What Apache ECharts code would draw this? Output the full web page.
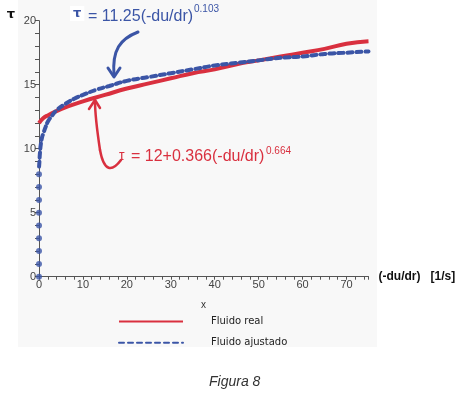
<!DOCTYPE html>
<html>
<head>
<meta charset="utf-8">
<script src="https://cdn.jsdelivr.net/npm/echarts@6/dist/echarts.min.js"></script>
<style>
  html, body { margin: 0; padding: 0; background: #fff; }
  #main { width: 466px; height: 398px; }
</style>
</head>
<body>
<div id="main"></div>
<script>
// valores
var realX = [0, 1, 2, 5, 10, 15, 20, 25, 30, 35, 40, 45, 50, 55, 60, 65, 70, 75];
var realY = [12.0, 12.4, 12.6, 13.1, 13.7, 14.2, 14.7, 15.1, 15.5, 15.9, 16.2, 16.6, 16.9, 17.2, 17.5, 17.8, 18.2, 18.4];

var ajusX = [0.02, 0.1, 0.2, 0.4, 0.7, 1, 1.5, 2, 3, 4, 6, 8, 10, 13, 16, 20, 25, 30, 35, 40, 45, 50, 55, 60, 65, 70, 75];
var ajusY = [8.6, 9.0, 9.6, 10.3, 10.9, 11.2, 11.7, 12.1, 12.6, 13.0, 13.5, 13.9, 14.2, 14.6, 14.9, 15.3, 15.6, 15.9, 16.2, 16.5, 16.7, 16.9, 17.1, 17.2, 17.4, 17.5, 17.6];

// puntos sobre el eje (parte vertical de la curva ajustada)
var ejeX = [0, 0, 0, 0, 0, 0, 0, 0, 0];
var ejeY = [0, 1, 2, 3, 4, 5, 6, 7, 8];

var rojo = '#d9303f';
var azul = '#3b55a6';
var labelFont = 'Liberation Sans';

function pares(xs, ys) {
    var out = [];
    for (var i = 0; i < xs.length; i++) out.push([xs[i], ys[i]]);
    return out;
}

var chart = echarts.init(document.getElementById('main'));

var option = {
    animation: false,
    backgroundColor: '#fff',
    grid: { left: 39, top: 20.7, width: 329.5, height: 256, containLabel: false },
    xAxis: {
        type: 'value',
        min: 0, max: 75, interval: 2,
        name: '(-du/dr)   [1/s]',
        nameLocation: 'end',
        nameGap: 10,
        nameTextStyle: { fontFamily: labelFont, fontWeight: 'bold', fontSize: 12, color: '#111', verticalAlign: 'middle', padding: [8, 0, 0, 0] },
        axisLine: { lineStyle: { color: '#555', width: 1 } },
        axisTick: { length: 3, lineStyle: { color: '#555' } },
        axisLabel: {
            margin: 3, color: '#444', fontFamily: labelFont, fontSize: 11,
            formatter: function (v) { return v % 10 === 0 ? String(v) : ''; }
        },
        splitLine: { show: false }
    },
    yAxis: {
        type: 'value',
        min: 0, max: 20, interval: 1,
        name: 'τ',
        nameLocation: 'end',
        nameGap: 0,
        nameTextStyle: { fontFamily: 'DejaVu Sans', fontWeight: 'bold', fontSize: 13, color: '#111', align: 'right', verticalAlign: 'bottom', padding: [0, 24, 0, 0] },
        axisLine: { show: true, lineStyle: { color: '#555', width: 1 } },
        axisTick: { length: 4, lineStyle: { color: '#555' } },
        axisLabel: {
            margin: 3, color: '#444', fontFamily: labelFont, fontSize: 11,
            formatter: function (v) { return v % 5 === 0 ? String(v) : ''; }
        },
        splitLine: { show: false }
    },
    legend: {
        orient: 'vertical',
        left: 113, top: 311,
        itemWidth: 64, itemHeight: 14,
        itemGap: 10,
        data: [
            { name: 'Fluido real', itemStyle: { opacity: 0 } },
            { name: 'Fluido ajustado', itemStyle: { opacity: 0 } }
        ],
        textStyle: { fontFamily: 'DejaVu Sans', fontSize: 10, color: '#222', padding: [0, 0, 0, 23] }
    },
    series: [
        {
            name: 'Fluido real',
            type: 'line',
            symbol: 'none',
            smooth: true,
            data: pares(realX, realY),
            lineStyle: { color: rojo, width: 4 },
            itemStyle: { color: rojo },
            z: 2
        },
        {
            name: 'Fluido ajustado',
            type: 'line',
            symbol: 'none',
            smooth: true,
            data: pares(ajusX, ajusY),
            lineStyle: { color: azul, width: 4, type: [5, 4], cap: 'round' },
            itemStyle: { color: azul },
            z: 3
        },
        {
            name: 'Fluido ajustado',
            type: 'scatter',
            symbol: 'circle',
            symbolSize: 6,
            data: pares(ejeX, ejeY),
            itemStyle: { color: azul },
            z: 3
        }
    ],
    graphic: [
        // fondo gris claro de la figura
        { type: 'rect', z: -10, silent: true, shape: { x: 18, y: 0, width: 359, height: 347 }, style: { fill: '#f8f8f8' } },
        // ecuacion ajustada
        { type: 'text', left: 70, top: 6, style: { text: 'τ', fontFamily: 'DejaVu Sans', fontSize: 13, fontWeight: 'bold', fill: azul, backgroundColor: '#fff', padding: [1, 3] } },
        { type: 'text', left: 88, top: 9, style: { text: '= 11.25(-du/dr)', fontFamily: labelFont, fontSize: 16, fill: azul } },
        { type: 'text', left: 194, top: 4, style: { text: '0.103', fontFamily: labelFont, fontSize: 10, fill: azul } },
        { type: 'bezierCurve', shape: { x1: 138, y1: 32, cpx1: 120, cpy1: 39, cpx2: 112, cpy2: 50, x2: 114, y2: 75 }, style: { stroke: azul, lineWidth: 3, fill: null, lineCap: 'round' } },
        { type: 'polyline', shape: { points: [[108, 68], [114, 77], [120, 68]] }, style: { stroke: azul, lineWidth: 3, fill: null, lineCap: 'round', lineJoin: 'round' } },
        // ecuacion real
        { type: 'text', left: 119, top: 149, style: { text: 'τ', fontFamily: labelFont, fontSize: 14, fill: rojo } },
        { type: 'text', left: 131, top: 149, style: { text: '= 12+0.366(-du/dr)', fontFamily: labelFont, fontSize: 16, fill: rojo } },
        { type: 'text', left: 266, top: 146, style: { text: '0.664', fontFamily: labelFont, fontSize: 10, fill: rojo } },
        { type: 'bezierCurve', shape: { x1: 121, y1: 160, cpx1: 112, cpy1: 172, cpx2: 104, cpy2: 172, x2: 100, y2: 150 }, style: { stroke: rojo, lineWidth: 2.5, fill: null, lineCap: 'round' } },
        { type: 'bezierCurve', shape: { x1: 100, y1: 150, cpx1: 97, cpy1: 130, cpx2: 95, cpy2: 115, x2: 95, y2: 101 }, style: { stroke: rojo, lineWidth: 2.5, fill: null, lineCap: 'round' } },
        { type: 'polyline', shape: { points: [[89, 109], [95, 100], [100, 108]] }, style: { stroke: rojo, lineWidth: 2.5, fill: null, lineCap: 'round', lineJoin: 'round' } },
        // rotulo "x" bajo el eje
        { type: 'text', left: 201, top: 300, style: { text: 'x', fontFamily: labelFont, fontSize: 10, fill: '#333' } },
        // pie de figura
        { type: 'text', left: 209, top: 375, style: { text: 'Figura 8', fontFamily: labelFont, fontSize: 14, fontStyle: 'italic', fill: '#333' } }
    ]
};

chart.setOption(option);
</script>
</body>
</html>
